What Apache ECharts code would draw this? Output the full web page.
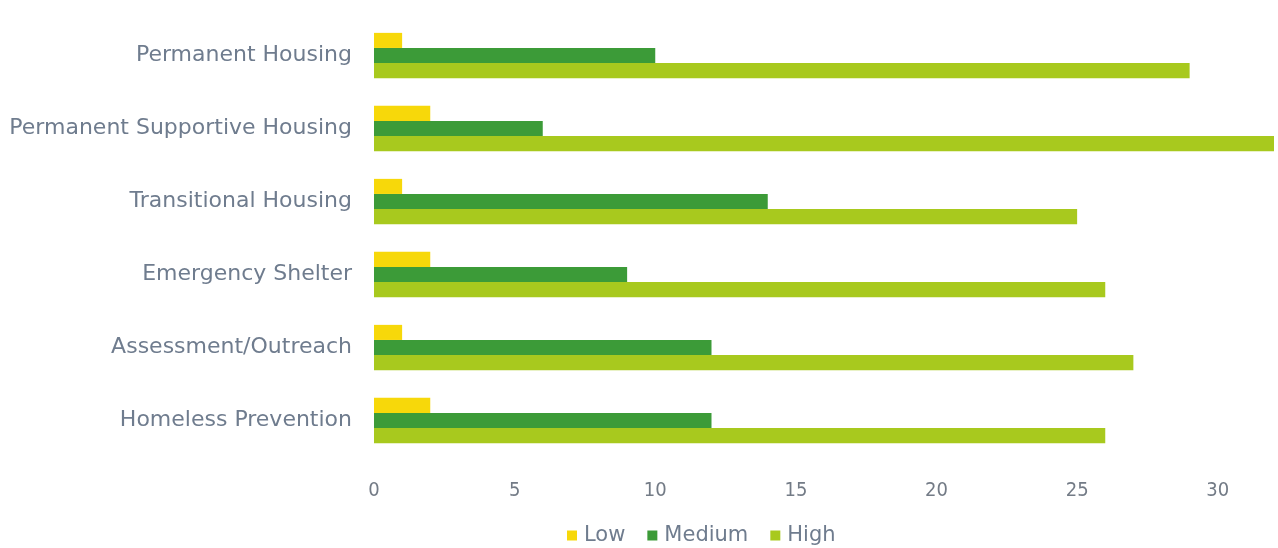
<!DOCTYPE html>
<html>
<head>
<meta charset="utf-8">
<script src="https://cdn.jsdelivr.net/npm/echarts@6/dist/echarts.min.js"></script>
<style>
  html, body { margin: 0; padding: 0; background: #ffffff; }
  #chart { width: 1278px; height: 548px; }
</style>
</head>
<body>
<div id="chart"></div>
<script>
// Program categories, listed top to bottom
const categories = [
  'Permanent Housing',
  'Permanent Supportive Housing',
  'Transitional Housing',
  'Emergency Shelter',
  'Assessment/Outreach',
  'Homeless Prevention'
];

// Priority counts per program
const lowValues = [1, 2, 1, 2, 1, 2];
const mediumValues = [10, 6, 14, 9, 12, 12];
const highValues = [29, 32, 25, 26, 27, 26];

const seriesNames = ['Low', 'Medium', 'High'];
const seriesColors = ['#f7d80a', '#3c9b38', '#a8c91e'];

const chart = echarts.init(document.getElementById('chart'), null, { renderer: 'canvas' });

const textColor = '#6f7c8e';
const font = 'DejaVu Sans';

chart.setOption({
  animation: false,
  backgroundColor: '#ffffff',
  grid: { left: 374, right: 4, top: 19, bottom: 91, containLabel: false },
  legend: {
    bottom: -3,
    left: 562,
    itemWidth: 10,
    itemHeight: 10,
    itemGap: 22,
    icon: 'rect',
    textStyle: { color: textColor, fontFamily: font, fontSize: 21, padding: [0, 0, 0, 2] },
    data: seriesNames
  },
  xAxis: {
    type: 'value',
    min: 0,
    max: 32,
    interval: 5,
    axisLine: { show: false },
    axisTick: { show: false },
    splitLine: { show: false },
    axisLabel: {
      color: '#737b86',
      fontFamily: 'DejaVu Sans Condensed',
      fontSize: 20,
      margin: 24,
      showMaxLabel: false
    }
  },
  yAxis: {
    type: 'category',
    data: categories,
    inverse: true,
    axisLine: { show: false },
    axisTick: { show: false },
    splitLine: { show: false },
    axisLabel: {
      color: textColor,
      fontFamily: font,
      fontSize: 22,
      margin: 22
    }
  },
  series: [
    { name: seriesNames[0], type: 'bar', data: lowValues, itemStyle: { color: seriesColors[0] }, barGap: '0%', barCategoryGap: '38%' },
    { name: seriesNames[1], type: 'bar', data: mediumValues, itemStyle: { color: seriesColors[1] }, barGap: '0%', barCategoryGap: '38%' },
    { name: seriesNames[2], type: 'bar', data: highValues, itemStyle: { color: seriesColors[2] }, barGap: '0%', barCategoryGap: '38%' }
  ]
});
</script>
</body>
</html>
